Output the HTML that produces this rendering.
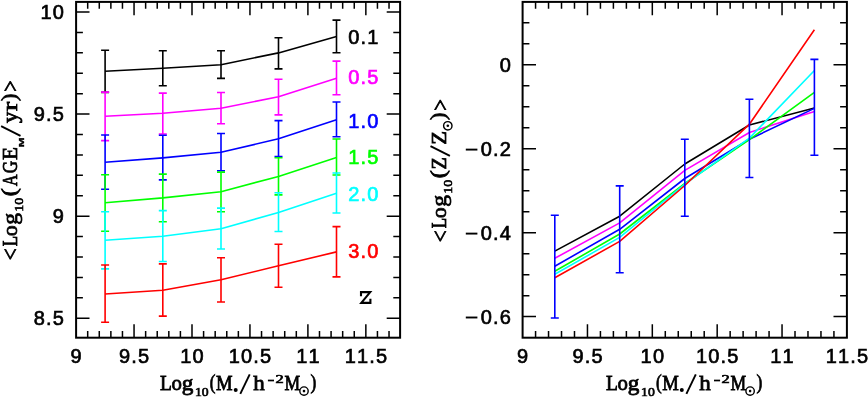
<!DOCTYPE html>
<html><head><meta charset="utf-8"><title>chart</title>
<style>html,body{margin:0;padding:0;background:#fff;}svg{display:block;will-change:transform;}text{font-kerning:none;}</style>
</head><body>
<svg width="868" height="397" viewBox="0 0 868 397">
<rect width="868" height="397" fill="#fff"/>
<path d="M105.1 50.2V92.4M101.1 50.2h8.0M101.1 92.4h8.0M162.8 50.8V85.8M158.8 50.8h8.0M158.8 85.8h8.0M221.0 50.8V78.4M217.0 50.8h8.0M217.0 78.4h8.0M278.5 37.8V68.9M274.5 37.8h8.0M274.5 68.9h8.0M336.5 20.1V52.7M332.5 20.1h8.0M332.5 52.7h8.0" fill="none" stroke="#000000" stroke-width="1.6"/>
<polyline points="105.1,71.3 162.8,68.3 221.0,64.7 278.5,52.9 336.5,36.6" fill="none" stroke="#000000" stroke-width="1.6" stroke-linejoin="round"/>
<path d="M105.1 92.1V140.6M101.1 92.1h8.0M101.1 140.6h8.0M162.8 93.1V134.0M158.8 93.1h8.0M158.8 134.0h8.0M221.0 92.5V123.8M217.0 92.5h8.0M217.0 123.8h8.0M278.5 79.2V114.9M274.5 79.2h8.0M274.5 114.9h8.0M336.5 61.1V94.8M332.5 61.1h8.0M332.5 94.8h8.0" fill="none" stroke="#ff00ff" stroke-width="1.6"/>
<polyline points="105.1,116.3 162.8,113.3 221.0,108.2 278.5,96.8 336.5,78.3" fill="none" stroke="#ff00ff" stroke-width="1.6" stroke-linejoin="round"/>
<path d="M105.1 135.0V189.2M101.1 135.0h8.0M101.1 189.2h8.0M162.8 135.3V179.9M158.8 135.3h8.0M158.8 179.9h8.0M221.0 133.5V170.8M217.0 133.5h8.0M217.0 170.8h8.0M278.5 120.6V156.5M274.5 120.6h8.0M274.5 156.5h8.0M336.5 102.0V136.8M332.5 102.0h8.0M332.5 136.8h8.0" fill="none" stroke="#0000ff" stroke-width="1.6"/>
<polyline points="105.1,162.3 162.8,157.9 221.0,152.3 278.5,138.8 336.5,119.7" fill="none" stroke="#0000ff" stroke-width="1.6" stroke-linejoin="round"/>
<path d="M105.1 174.7V231.2M101.1 174.7h8.0M101.1 231.2h8.0M162.8 174.1V221.8M158.8 174.1h8.0M158.8 221.8h8.0M221.0 172.1V211.8M217.0 172.1h8.0M217.0 211.8h8.0M278.5 157.7V194.9M274.5 157.7h8.0M274.5 194.9h8.0M336.5 139.0V175.0M332.5 139.0h8.0M332.5 175.0h8.0" fill="none" stroke="#00ff00" stroke-width="1.6"/>
<polyline points="105.1,202.7 162.8,197.9 221.0,191.7 278.5,176.4 336.5,157.6" fill="none" stroke="#00ff00" stroke-width="1.6" stroke-linejoin="round"/>
<path d="M105.1 211.7V268.9M101.1 211.7h8.0M101.1 268.9h8.0M162.8 210.6V261.5M158.8 210.6h8.0M158.8 261.5h8.0M221.0 208.1V249.0M217.0 208.1h8.0M217.0 249.0h8.0M278.5 192.7V231.5M274.5 192.7h8.0M274.5 231.5h8.0M336.5 173.0V213.0M332.5 173.0h8.0M332.5 213.0h8.0" fill="none" stroke="#00ffff" stroke-width="1.6"/>
<polyline points="105.1,240.3 162.8,236.3 221.0,228.8 278.5,212.4 336.5,193.3" fill="none" stroke="#00ffff" stroke-width="1.6" stroke-linejoin="round"/>
<path d="M105.1 265.0V322.2M101.1 265.0h8.0M101.1 322.2h8.0M162.8 263.9V316.1M158.8 263.9h8.0M158.8 316.1h8.0M221.0 257.8V302.0M217.0 257.8h8.0M217.0 302.0h8.0M278.5 244.3V287.2M274.5 244.3h8.0M274.5 287.2h8.0M336.5 226.6V276.9M332.5 226.6h8.0M332.5 276.9h8.0" fill="none" stroke="#ff0000" stroke-width="1.6"/>
<polyline points="105.1,294.0 162.8,290.3 221.0,279.8 278.5,265.8 336.5,251.9" fill="none" stroke="#ff0000" stroke-width="1.6" stroke-linejoin="round"/>
<polyline points="554.8,251.1 619.7,216.2 684.8,164.0 749.4,125.0 814.4,108.0" fill="none" stroke="#000000" stroke-width="1.6" stroke-linejoin="round"/>
<polyline points="554.8,258.3 619.7,222.9 684.8,170.4 749.4,132.5 814.4,111.4" fill="none" stroke="#ff00ff" stroke-width="1.6" stroke-linejoin="round"/>
<polyline points="554.8,266.2 619.7,229.3 684.8,178.5 749.4,139.2 814.4,108.4" fill="none" stroke="#0000ff" stroke-width="1.6" stroke-linejoin="round"/>
<polyline points="554.8,271.3 619.7,234.0 684.8,183.5 749.4,139.6 814.4,92.3" fill="none" stroke="#00ff00" stroke-width="1.6" stroke-linejoin="round"/>
<polyline points="554.8,274.3 619.7,237.4 684.8,184.2 749.4,138.1 814.4,70.5" fill="none" stroke="#00ffff" stroke-width="1.6" stroke-linejoin="round"/>
<polyline points="554.8,277.7 619.7,241.4 684.8,185.5 749.4,124.2 814.4,29.8" fill="none" stroke="#ff0000" stroke-width="1.6" stroke-linejoin="round"/>
<path d="M554.8 215.2V318.0M550.8 215.2h8.0M550.8 318.0h8.0M619.7 185.9V272.7M615.7 185.9h8.0M615.7 272.7h8.0M684.8 139.2V216.2M680.8 139.2h8.0M680.8 216.2h8.0M749.4 99.3V177.5M745.4 99.3h8.0M745.4 177.5h8.0M814.4 59.4V155.3M810.4 59.4h8.0M810.4 155.3h8.0" fill="none" stroke="#0000ff" stroke-width="1.6"/>
<rect x="76.1" y="1.9" width="324.00" height="335.80" fill="none" stroke="#000" stroke-width="2"/>
<rect x="522.6" y="1.9" width="324.30" height="335.80" fill="none" stroke="#000" stroke-width="2"/>
<path d="M87.69 337.7v-6.8M87.69 1.9v6.8M99.28 337.7v-6.8M99.28 1.9v6.8M110.87 337.7v-6.8M110.87 1.9v6.8M122.46 337.7v-6.8M122.46 1.9v6.8M134.05 337.7v-13.4M134.05 1.9v13.4M145.64 337.7v-6.8M145.64 1.9v6.8M157.23 337.7v-6.8M157.23 1.9v6.8M168.82 337.7v-6.8M168.82 1.9v6.8M180.41 337.7v-6.8M180.41 1.9v6.8M192.00 337.7v-13.4M192.00 1.9v13.4M203.59 337.7v-6.8M203.59 1.9v6.8M215.18 337.7v-6.8M215.18 1.9v6.8M226.77 337.7v-6.8M226.77 1.9v6.8M238.36 337.7v-6.8M238.36 1.9v6.8M249.95 337.7v-13.4M249.95 1.9v13.4M261.54 337.7v-6.8M261.54 1.9v6.8M273.13 337.7v-6.8M273.13 1.9v6.8M284.72 337.7v-6.8M284.72 1.9v6.8M296.31 337.7v-6.8M296.31 1.9v6.8M307.90 337.7v-13.4M307.90 1.9v13.4M319.49 337.7v-6.8M319.49 1.9v6.8M331.08 337.7v-6.8M331.08 1.9v6.8M342.67 337.7v-6.8M342.67 1.9v6.8M354.26 337.7v-6.8M354.26 1.9v6.8M365.85 337.7v-13.4M365.85 1.9v13.4M377.44 337.7v-6.8M377.44 1.9v6.8M389.03 337.7v-6.8M389.03 1.9v6.8" stroke="#000" stroke-width="1.5" fill="none"/>
<path d="M76.1 318.23h13.4M400.1 318.23h-13.4M76.1 297.81h6.8M400.1 297.81h-6.8M76.1 277.40h6.8M400.1 277.40h-6.8M76.1 256.98h6.8M400.1 256.98h-6.8M76.1 236.56h6.8M400.1 236.56h-6.8M76.1 216.15h13.4M400.1 216.15h-13.4M76.1 195.74h6.8M400.1 195.74h-6.8M76.1 175.32h6.8M400.1 175.32h-6.8M76.1 154.90h6.8M400.1 154.90h-6.8M76.1 134.49h6.8M400.1 134.49h-6.8M76.1 114.08h13.4M400.1 114.08h-13.4M76.1 93.66h6.8M400.1 93.66h-6.8M76.1 73.25h6.8M400.1 73.25h-6.8M76.1 52.83h6.8M400.1 52.83h-6.8M76.1 32.41h6.8M400.1 32.41h-6.8M76.1 12.00h13.4M400.1 12.00h-13.4" stroke="#000" stroke-width="1.5" fill="none"/>
<path d="M535.57 337.7v-6.8M535.57 1.9v6.8M548.54 337.7v-6.8M548.54 1.9v6.8M561.52 337.7v-6.8M561.52 1.9v6.8M574.49 337.7v-6.8M574.49 1.9v6.8M587.46 337.7v-13.4M587.46 1.9v13.4M600.43 337.7v-6.8M600.43 1.9v6.8M613.40 337.7v-6.8M613.40 1.9v6.8M626.38 337.7v-6.8M626.38 1.9v6.8M639.35 337.7v-6.8M639.35 1.9v6.8M652.32 337.7v-13.4M652.32 1.9v13.4M665.29 337.7v-6.8M665.29 1.9v6.8M678.26 337.7v-6.8M678.26 1.9v6.8M691.24 337.7v-6.8M691.24 1.9v6.8M704.21 337.7v-6.8M704.21 1.9v6.8M717.18 337.7v-13.4M717.18 1.9v13.4M730.15 337.7v-6.8M730.15 1.9v6.8M743.12 337.7v-6.8M743.12 1.9v6.8M756.10 337.7v-6.8M756.10 1.9v6.8M769.07 337.7v-6.8M769.07 1.9v6.8M782.04 337.7v-13.4M782.04 1.9v13.4M795.01 337.7v-6.8M795.01 1.9v6.8M807.98 337.7v-6.8M807.98 1.9v6.8M820.96 337.7v-6.8M820.96 1.9v6.8M833.93 337.7v-6.8M833.93 1.9v6.8" stroke="#000" stroke-width="1.5" fill="none"/>
<path d="M522.6 316.62h13.4M846.9 316.62h-13.4M522.6 295.63h6.8M846.9 295.63h-6.8M522.6 274.65h6.8M846.9 274.65h-6.8M522.6 253.67h6.8M846.9 253.67h-6.8M522.6 232.68h13.4M846.9 232.68h-13.4M522.6 211.69h6.8M846.9 211.69h-6.8M522.6 190.71h6.8M846.9 190.71h-6.8M522.6 169.72h6.8M846.9 169.72h-6.8M522.6 148.74h13.4M846.9 148.74h-13.4M522.6 127.75h6.8M846.9 127.75h-6.8M522.6 106.77h6.8M846.9 106.77h-6.8M522.6 85.78h6.8M846.9 85.78h-6.8M522.6 64.80h13.4M846.9 64.80h-13.4M522.6 43.81h6.8M846.9 43.81h-6.8M522.6 22.83h6.8M846.9 22.83h-6.8" stroke="#000" stroke-width="1.5" fill="none"/>
<text x="76.7" y="363.2" font-family="Liberation Sans, sans-serif" font-size="20" letter-spacing="1.2" text-anchor="middle" fill="#000" stroke="#000" stroke-width="0.65">9</text>
<text x="523.2" y="363.2" font-family="Liberation Sans, sans-serif" font-size="20" letter-spacing="1.2" text-anchor="middle" fill="#000" stroke="#000" stroke-width="0.65">9</text>
<text x="134.7" y="363.2" font-family="Liberation Sans, sans-serif" font-size="20" letter-spacing="1.2" text-anchor="middle" fill="#000" stroke="#000" stroke-width="0.65">9.5</text>
<text x="588.1" y="363.2" font-family="Liberation Sans, sans-serif" font-size="20" letter-spacing="1.2" text-anchor="middle" fill="#000" stroke="#000" stroke-width="0.65">9.5</text>
<text x="192.6" y="363.2" font-family="Liberation Sans, sans-serif" font-size="20" letter-spacing="1.2" text-anchor="middle" fill="#000" stroke="#000" stroke-width="0.65">10</text>
<text x="652.9" y="363.2" font-family="Liberation Sans, sans-serif" font-size="20" letter-spacing="1.2" text-anchor="middle" fill="#000" stroke="#000" stroke-width="0.65">10</text>
<text x="250.6" y="363.2" font-family="Liberation Sans, sans-serif" font-size="20" letter-spacing="1.2" text-anchor="middle" fill="#000" stroke="#000" stroke-width="0.65">10.5</text>
<text x="717.8" y="363.2" font-family="Liberation Sans, sans-serif" font-size="20" letter-spacing="1.2" text-anchor="middle" fill="#000" stroke="#000" stroke-width="0.65">10.5</text>
<text x="308.5" y="363.2" font-family="Liberation Sans, sans-serif" font-size="20" letter-spacing="1.2" text-anchor="middle" fill="#000" stroke="#000" stroke-width="0.65">11</text>
<text x="782.6" y="363.2" font-family="Liberation Sans, sans-serif" font-size="20" letter-spacing="1.2" text-anchor="middle" fill="#000" stroke="#000" stroke-width="0.65">11</text>
<text x="366.5" y="363.2" font-family="Liberation Sans, sans-serif" font-size="20" letter-spacing="1.2" text-anchor="middle" fill="#000" stroke="#000" stroke-width="0.65">11.5</text>
<text x="847.5" y="363.2" font-family="Liberation Sans, sans-serif" font-size="20" letter-spacing="1.2" text-anchor="middle" fill="#000" stroke="#000" stroke-width="0.65">11.5</text>
<text x="65.2" y="19.0" font-family="Liberation Sans, sans-serif" font-size="20" letter-spacing="1.2" text-anchor="end" fill="#000" stroke="#000" stroke-width="0.65">10</text>
<text x="65.2" y="121.1" font-family="Liberation Sans, sans-serif" font-size="20" letter-spacing="1.2" text-anchor="end" fill="#000" stroke="#000" stroke-width="0.65">9.5</text>
<text x="65.2" y="223.2" font-family="Liberation Sans, sans-serif" font-size="20" letter-spacing="1.2" text-anchor="end" fill="#000" stroke="#000" stroke-width="0.65">9</text>
<text x="65.2" y="325.2" font-family="Liberation Sans, sans-serif" font-size="20" letter-spacing="1.2" text-anchor="end" fill="#000" stroke="#000" stroke-width="0.65">8.5</text>
<text x="512.2" y="72.4" font-family="Liberation Sans, sans-serif" font-size="20" letter-spacing="1.2" text-anchor="end" fill="#000" stroke="#000" stroke-width="0.65">0</text>
<text x="512.2" y="156.3" font-family="Liberation Sans, sans-serif" font-size="20" letter-spacing="1.2" text-anchor="end" fill="#000" stroke="#000" stroke-width="0.65">0.2</text>
<path d="M465.8 149.6H477.4" stroke="#000" stroke-width="1.9"/>
<text x="512.2" y="240.3" font-family="Liberation Sans, sans-serif" font-size="20" letter-spacing="1.2" text-anchor="end" fill="#000" stroke="#000" stroke-width="0.65">0.4</text>
<path d="M465.8 233.6H477.4" stroke="#000" stroke-width="1.9"/>
<text x="512.2" y="324.2" font-family="Liberation Sans, sans-serif" font-size="20" letter-spacing="1.2" text-anchor="end" fill="#000" stroke="#000" stroke-width="0.65">0.6</text>
<path d="M465.8 317.5H477.4" stroke="#000" stroke-width="1.9"/>
<text x="348.2" y="43.9" font-family="Liberation Sans, sans-serif" font-size="20" letter-spacing="1.2" text-anchor="start" fill="#000000" stroke="#000000" stroke-width="0.65">0.1</text>
<text x="348.2" y="84.4" font-family="Liberation Sans, sans-serif" font-size="20" letter-spacing="1.2" text-anchor="start" fill="#ff00ff" stroke="#ff00ff" stroke-width="0.65">0.5</text>
<text x="348.2" y="127.7" font-family="Liberation Sans, sans-serif" font-size="20" letter-spacing="1.2" text-anchor="start" fill="#0000ff" stroke="#0000ff" stroke-width="0.65">1.0</text>
<text x="348.2" y="164.2" font-family="Liberation Sans, sans-serif" font-size="20" letter-spacing="1.2" text-anchor="start" fill="#00ff00" stroke="#00ff00" stroke-width="0.65">1.5</text>
<text x="348.2" y="201.0" font-family="Liberation Sans, sans-serif" font-size="20" letter-spacing="1.2" text-anchor="start" fill="#00ffff" stroke="#00ffff" stroke-width="0.65">2.0</text>
<text x="348.2" y="258.0" font-family="Liberation Sans, sans-serif" font-size="20" letter-spacing="1.2" text-anchor="start" fill="#ff0000" stroke="#ff0000" stroke-width="0.65">3.0</text>
<g><text transform="matrix(0.9100 0 0 1.0000 159.89 389.90)" font-family="Liberation Serif, serif" font-size="21.5" fill="#000" stroke="#000" stroke-width="0.8">L</text><text transform="matrix(0.9674 0 0 1.0000 171.45 389.90)" font-family="Liberation Serif, serif" font-size="21.5" fill="#000" stroke="#000" stroke-width="0.8">o</text><text transform="matrix(1.0778 0 0 1.0000 181.68 389.90)" font-family="Liberation Serif, serif" font-size="21.5" fill="#000" stroke="#000" stroke-width="0.8">g</text><text transform="matrix(1.0072 0 0 0.9198 194.98 395.75)" font-family="Liberation Serif, serif" font-size="13.6" fill="#000" stroke="#000" stroke-width="0.7">10</text><text transform="matrix(0.7938 0 0 0.9788 209.87 389.10)" font-family="Liberation Serif, serif" font-size="21.5" fill="#000" stroke="#000" stroke-width="0.8">(</text><text transform="matrix(0.8660 0 0 1.0000 216.11 389.90)" font-family="Liberation Serif, serif" font-size="21.5" fill="#000" stroke="#000" stroke-width="0.8">M</text><circle cx="235.7" cy="389.9" r="2.0" fill="#000"/><path d="M240.3 393.8L249.7 374.4" stroke="#000" stroke-width="1.9" fill="none"/><text transform="matrix(1.0698 0 0 1.0000 253.20 389.90)" font-family="Liberation Serif, serif" font-size="21.5" fill="#000" stroke="#000" stroke-width="0.8">h</text><path d="M267.9 380.5h6.1" stroke="#000" stroke-width="1.7"/><text transform="matrix(1.2026 0 0 0.8427 275.44 383.45)" font-family="Liberation Serif, serif" font-size="13.6" fill="#000" stroke="#000" stroke-width="0.7">2</text><text transform="matrix(0.8173 0 0 1.0000 284.43 389.90)" font-family="Liberation Serif, serif" font-size="21.5" fill="#000" stroke="#000" stroke-width="0.8">M</text><circle cx="304.0" cy="391.1" r="4.2" fill="none" stroke="#000" stroke-width="1.4"/><circle cx="304.0" cy="391.1" r="1.3" fill="#000"/><text transform="matrix(0.8055 0 0 0.9788 310.46 389.10)" font-family="Liberation Serif, serif" font-size="21.5" fill="#000" stroke="#000" stroke-width="0.8">)</text></g>
<g><text transform="matrix(0.9100 0 0 1.0000 605.99 389.90)" font-family="Liberation Serif, serif" font-size="21.5" fill="#000" stroke="#000" stroke-width="0.8">L</text><text transform="matrix(0.9674 0 0 1.0000 617.55 389.90)" font-family="Liberation Serif, serif" font-size="21.5" fill="#000" stroke="#000" stroke-width="0.8">o</text><text transform="matrix(1.0778 0 0 1.0000 627.78 389.90)" font-family="Liberation Serif, serif" font-size="21.5" fill="#000" stroke="#000" stroke-width="0.8">g</text><text transform="matrix(1.0072 0 0 0.9198 641.08 395.75)" font-family="Liberation Serif, serif" font-size="13.6" fill="#000" stroke="#000" stroke-width="0.7">10</text><text transform="matrix(0.7938 0 0 0.9788 655.97 389.10)" font-family="Liberation Serif, serif" font-size="21.5" fill="#000" stroke="#000" stroke-width="0.8">(</text><text transform="matrix(0.8660 0 0 1.0000 662.21 389.90)" font-family="Liberation Serif, serif" font-size="21.5" fill="#000" stroke="#000" stroke-width="0.8">M</text><circle cx="681.8" cy="389.9" r="2.0" fill="#000"/><path d="M686.4 393.8L695.8 374.4" stroke="#000" stroke-width="1.9" fill="none"/><text transform="matrix(1.0698 0 0 1.0000 699.30 389.90)" font-family="Liberation Serif, serif" font-size="21.5" fill="#000" stroke="#000" stroke-width="0.8">h</text><path d="M714.0 380.5h6.1" stroke="#000" stroke-width="1.7"/><text transform="matrix(1.2026 0 0 0.8427 721.54 383.45)" font-family="Liberation Serif, serif" font-size="13.6" fill="#000" stroke="#000" stroke-width="0.7">2</text><text transform="matrix(0.8173 0 0 1.0000 730.53 389.90)" font-family="Liberation Serif, serif" font-size="21.5" fill="#000" stroke="#000" stroke-width="0.8">M</text><circle cx="750.1" cy="391.1" r="4.2" fill="none" stroke="#000" stroke-width="1.4"/><circle cx="750.1" cy="391.1" r="1.3" fill="#000"/><text transform="matrix(0.8055 0 0 0.9788 756.56 389.10)" font-family="Liberation Serif, serif" font-size="21.5" fill="#000" stroke="#000" stroke-width="0.8">)</text></g>
<path d="M361.0 296.2V292.1H370.2L361.3 302.9H370.4V298.8" fill="none" stroke="#000" stroke-width="2.1" stroke-linejoin="miter" stroke-miterlimit="2.5"/>
<g transform="translate(17.0,259.7) rotate(-90)"><text transform="matrix(0.9823 0 0 1.0419 -0.59 1.35)" font-family="Liberation Serif, serif" font-size="21.5" fill="#000" stroke="#000" stroke-width="0.8">&lt;</text><text transform="matrix(0.7910 0 0 1.0000 13.33 0.00)" font-family="Liberation Serif, serif" font-size="21.5" fill="#000" stroke="#000" stroke-width="0.8">L</text><text transform="matrix(0.9887 0 0 1.0000 23.64 0.00)" font-family="Liberation Serif, serif" font-size="21.5" fill="#000" stroke="#000" stroke-width="0.8">o</text><text transform="matrix(1.0983 0 0 1.0000 34.86 0.00)" font-family="Liberation Serif, serif" font-size="21.5" fill="#000" stroke="#000" stroke-width="0.8">g</text><text transform="matrix(1.0155 0 0 0.9198 48.07 5.85)" font-family="Liberation Serif, serif" font-size="13.6" fill="#000" stroke="#000" stroke-width="0.7">10</text><text transform="matrix(1.1245 0 0 0.9687 63.54 -1.16)" font-family="Liberation Serif, serif" font-size="21.5" fill="#000" stroke="#000" stroke-width="0.8">(</text><text transform="matrix(0.7377 0 0 1.0000 73.80 0.00)" font-family="Liberation Serif, serif" font-size="21.5" fill="#000" stroke="#000" stroke-width="0.8">A</text><text transform="matrix(0.7961 0 0 1.0000 86.37 0.00)" font-family="Liberation Serif, serif" font-size="21.5" fill="#000" stroke="#000" stroke-width="0.8">G</text><text transform="matrix(0.9866 0 0 1.0000 99.77 0.00)" font-family="Liberation Serif, serif" font-size="21.5" fill="#000" stroke="#000" stroke-width="0.8">E</text><text transform="matrix(1.3140 0 0 0.8217 112.36 6.70)" font-family="Liberation Sans, sans-serif" font-weight="bold" font-size="9" fill="#000" stroke="#000" stroke-width="0.4">M</text><path d="M123.9 3.5L133.5 -15.9" stroke="#000" stroke-width="1.9" fill="none"/><text transform="matrix(1.0698 0 0 1.0000 136.60 0.00)" font-family="Liberation Serif, serif" font-size="21.5" fill="#000" stroke="#000" stroke-width="0.8">y</text><text transform="matrix(1.2949 0 0 1.0000 148.66 0.00)" font-family="Liberation Serif, serif" font-size="21.5" fill="#000" stroke="#000" stroke-width="0.8">r</text><text transform="matrix(1.0156 0 0 0.9687 158.82 -1.16)" font-family="Liberation Serif, serif" font-size="21.5" fill="#000" stroke="#000" stroke-width="0.8">)</text><text transform="matrix(0.9410 0 0 1.0419 167.95 1.35)" font-family="Liberation Serif, serif" font-size="21.5" fill="#000" stroke="#000" stroke-width="0.8">&gt;</text></g>
<g transform="translate(446.4,241.7) rotate(-90)"><text transform="matrix(0.9823 0 0 1.0419 -0.59 1.35)" font-family="Liberation Serif, serif" font-size="21.5" fill="#000" stroke="#000" stroke-width="0.8">&lt;</text><text transform="matrix(0.7910 0 0 1.0000 13.33 0.00)" font-family="Liberation Serif, serif" font-size="21.5" fill="#000" stroke="#000" stroke-width="0.8">L</text><text transform="matrix(0.9887 0 0 1.0000 23.64 0.00)" font-family="Liberation Serif, serif" font-size="21.5" fill="#000" stroke="#000" stroke-width="0.8">o</text><text transform="matrix(1.0983 0 0 1.0000 34.86 0.00)" font-family="Liberation Serif, serif" font-size="21.5" fill="#000" stroke="#000" stroke-width="0.8">g</text><text transform="matrix(1.0155 0 0 0.9198 48.07 5.85)" font-family="Liberation Serif, serif" font-size="13.6" fill="#000" stroke="#000" stroke-width="0.7">10</text><text transform="matrix(1.1245 0 0 0.9687 63.54 -1.16)" font-family="Liberation Serif, serif" font-size="21.5" fill="#000" stroke="#000" stroke-width="0.8">(</text><text transform="matrix(0.9381 0 0 1.0000 72.25 0.00)" font-family="Liberation Serif, serif" font-size="21.5" fill="#000" stroke="#000" stroke-width="0.8">Z</text><path d="M85.9 3.5L95.5 -15.9" stroke="#000" stroke-width="1.9" fill="none"/><text transform="matrix(1.0464 0 0 1.0000 96.95 0.00)" font-family="Liberation Serif, serif" font-size="21.5" fill="#000" stroke="#000" stroke-width="0.8">Z</text><circle cx="115.9" cy="1.4" r="4.2" fill="none" stroke="#000" stroke-width="1.4"/><circle cx="115.9" cy="1.4" r="1.3" fill="#000"/><text transform="matrix(1.0156 0 0 0.9687 121.72 -1.16)" font-family="Liberation Serif, serif" font-size="21.5" fill="#000" stroke="#000" stroke-width="0.8">)</text><text transform="matrix(0.9506 0 0 1.0419 130.94 1.35)" font-family="Liberation Serif, serif" font-size="21.5" fill="#000" stroke="#000" stroke-width="0.8">&gt;</text></g>
</svg>
</body></html>
